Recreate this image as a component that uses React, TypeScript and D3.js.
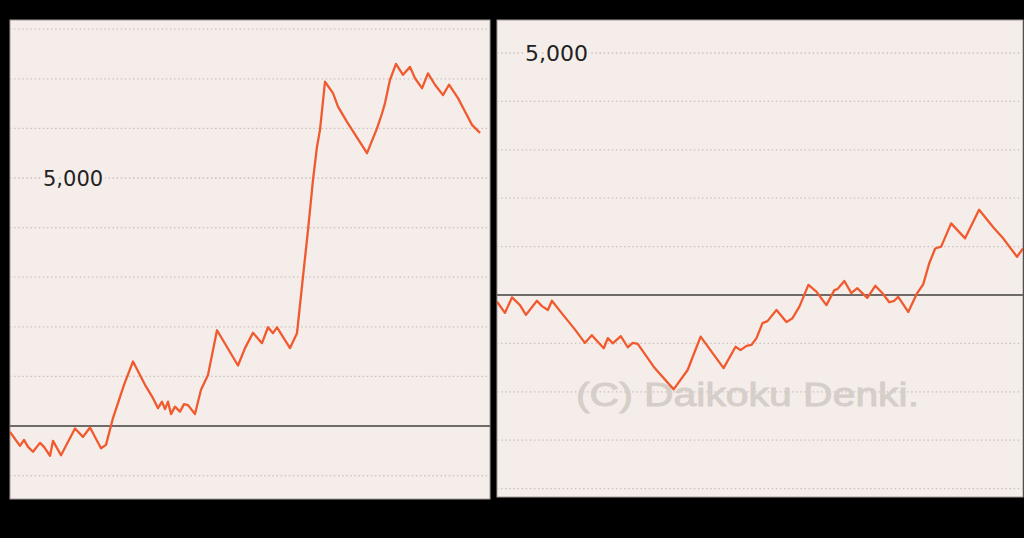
import React from 'react'
import * as d3 from 'd3'

// left panel: games played vs. balance (medals)
const leftGames = [0, 100, 140, 180, 230, 300, 340, 400, 430, 510, 650, 730, 800, 910, 960, 1030, 1140, 1230, 1350, 1430, 1480, 1520, 1550, 1580, 1610, 1650, 1700, 1740, 1780, 1850, 1910, 1980, 2070, 2280, 2350, 2430, 2520, 2580, 2630, 2670, 2800, 2870, 2930, 2980, 3030, 3070, 3100, 3150, 3230, 3280, 3370, 3570, 3670, 3720, 3750, 3800, 3860, 3930, 4000, 4050, 4120, 4180, 4250, 4330, 4390, 4480, 4550, 4620, 4700]
const leftValues = [-120, -400, -280, -420, -520, -340, -420, -600, -300, -590, -50, -220, -30, -450, -380, 160, 830, 1300, 830, 560, 360, 490, 340, 490, 240, 390, 290, 440, 420, 240, 730, 1030, 1930, 1220, 1570, 1880, 1670, 1990, 1870, 1990, 1570, 1870, 3010, 3950, 4960, 5630, 5970, 6940, 6710, 6440, 6130, 5500, 6000, 6300, 6510, 6980, 7300, 7080, 7240, 7010, 6810, 7110, 6880, 6670, 6880, 6610, 6340, 6070, 5910]

// right panel
const rightGames = [0, 80, 150, 230, 290, 400, 450, 510, 550, 650, 780, 880, 950, 1070, 1110, 1160, 1240, 1310, 1360, 1410, 1580, 1770, 1910, 2040, 2270, 2390, 2440, 2500, 2550, 2600, 2660, 2710, 2800, 2900, 2960, 3030, 3120, 3200, 3300, 3380, 3410, 3480, 3550, 3610, 3660, 3710, 3790, 3860, 3930, 3980, 4020, 4120, 4210, 4270, 4330, 4390, 4450, 4550, 4690, 4830, 4980, 5060, 5210, 5270]
const rightValues = [-140, -370, -50, -210, -410, -120, -230, -310, -120, -380, -710, -990, -830, -1100, -890, -1000, -850, -1080, -990, -1010, -1510, -1950, -1550, -860, -1510, -1070, -1140, -1050, -1030, -890, -580, -540, -310, -560, -480, -240, 210, 70, -210, 100, 120, 290, 40, 140, 40, -60, 190, 40, -150, -120, -40, -350, 40, 220, 650, 960, 1000, 1480, 1170, 1760, 1380, 1200, 790, 960]

const gridTicks = [-4000, -3000, -2000, -1000, 1000, 2000, 3000, 4000, 5000, 6000, 7000, 8000]
const labelValue = 5000

const W = 1024
const H = 538
const BG = '#f5ede9'

type PanelProps = {
  id: string
  x0: number
  x1: number
  y0: number
  y1: number
  games: number[]
  values: number[]
  gameDomain: [number, number]
  valueDomain: [number, number]
  labelX: number
  labelSize: number
  watermark?: boolean
}

function Panel(p: PanelProps) {
  const xScale = d3.scaleLinear().domain(p.gameDomain).range([p.x0, p.x1])
  const yScale = d3.scaleLinear().domain(p.valueDomain).range([p.y1, p.y0])
  const pts = p.games.map((g, i) => [g, p.values[i]] as [number, number])
  const line = d3.line<[number, number]>()
    .x(d => xScale(d[0]))
    .y(d => yScale(d[1]))
  const ticks = gridTicks.filter(t => yScale(t) > p.y0 + 2 && yScale(t) < p.y1 - 2)

  return (
    <g>
      <defs>
        <clipPath id={p.id}>
          <rect x={p.x0} y={p.y0} width={p.x1 - p.x0} height={p.y1 - p.y0} />
        </clipPath>
      </defs>
      <rect x={p.x0} y={p.y0} width={p.x1 - p.x0} height={p.y1 - p.y0}
        fill={BG} stroke="#a39e9b" strokeWidth={1} />
      <g clipPath={`url(#${p.id})`}>
        {ticks.map(t => (
          <line key={t} x1={p.x0} x2={p.x1} y1={yScale(t)} y2={yScale(t)}
            stroke="#c9c2be" strokeWidth={1.3} strokeDasharray="1.5 2.6" />
        ))}
        <text x={p.labelX} y={yScale(labelValue)} dy="0.36em"
          fontFamily="DejaVu Sans, Verdana, sans-serif" fontSize={p.labelSize}
          fill="#222" stroke={BG} strokeWidth={6} paintOrder="stroke"
          style={{ paintOrder: 'stroke' }}>5,000</text>
        {p.watermark && (
          <text x={576} y={406} fontFamily="Liberation Sans, Arial, sans-serif"
            fontSize={34} fill="#d5cec9" stroke="#d5cec9" strokeWidth={0.9}
            textLength={343} lengthAdjust="spacingAndGlyphs">
            (C) Daikoku Denki.
          </text>
        )}
        <line x1={p.x0} x2={p.x1} y1={yScale(0)} y2={yScale(0)}
          stroke="#6e6a68" strokeWidth={1.8} />
        <path d={line(pts) ?? ''} fill="none" stroke="#f05a2e" strokeWidth={2.3}
          strokeLinejoin="round" />
      </g>
    </g>
  )
}

export default function App() {
  return (
    <div style={{ position: 'fixed', left: 0, top: 0, width: W, height: H, background: '#000' }}>
      <svg width={W} height={H} style={{ display: 'block' }}>
        <rect x={0} y={0} width={W} height={H} fill="#000" />
        <Panel id="clipL" x0={10} x1={490} y0={20} y1={499}
          games={leftGames} values={leftValues}
          gameDomain={[0, 4800]} valueDomain={[-1472, 8185]}
          labelX={43} labelSize={21} />
        <Panel id="clipR" x0={497} x1={1023} y0={20} y1={497}
          games={rightGames} values={rightValues}
          gameDomain={[0, 5270]} valueDomain={[-4174, 5682]}
          labelX={525} labelSize={22} watermark />
      </svg>
    </div>
  )
}
